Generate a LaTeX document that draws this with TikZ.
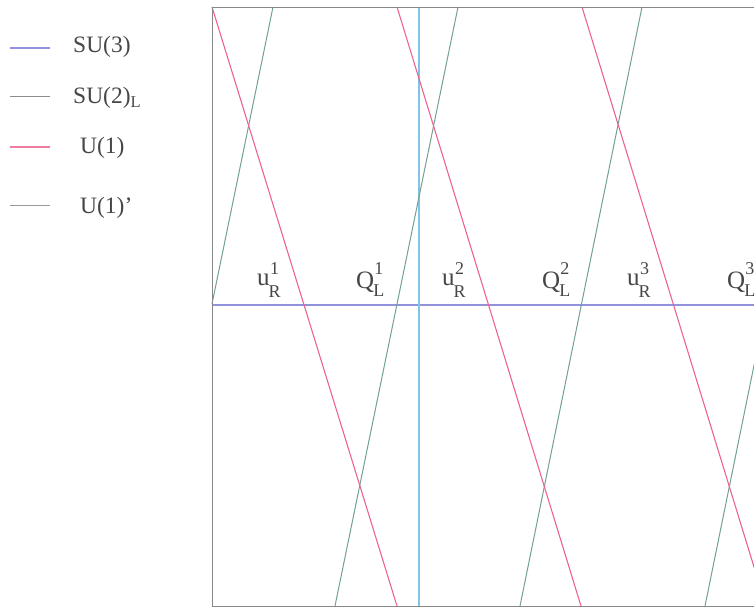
\documentclass[tikz,border=0pt]{standalone}
\usepackage{fontspec}
\setmainfont{Liberation Serif}
\setmathrm{Liberation Serif}
\definecolor{csu3}{RGB}{145,145,220}
\definecolor{csu2}{RGB}{115,160,148}
\definecolor{cu1}{RGB}{236,100,140}
\definecolor{cu1p}{RGB}{130,195,232}
\definecolor{cbox}{RGB}{135,135,135}
\definecolor{ctext}{RGB}{70,70,70}
\newlength\subw
\newcommand{\fld}[5]{#1\hspace{-1pt}\settowidth{\subw}{\fontsize{18}{18}\selectfont #3}\raisebox{-#4}{\fontsize{18}{18}\selectfont #3}\hspace{-\subw}\makebox[\subw][c]{\raisebox{#5}{\fontsize{18}{18}\selectfont #2}}}
\begin{document}
\begin{tikzpicture}[x=1pt,y=-1pt,
  boxline/.style={draw=cbox,line width=0.9pt},
  suthree/.style={draw=csu3,line width=1.2pt},
  sutwo/.style={draw=csu2,line width=1pt},
  uone/.style={draw=cu1,line width=1.1pt},
  uonep/.style={draw=cu1p,line width=1.2pt},
  leg/.style={anchor=west,font=\fontsize{23.5}{25}\selectfont,inner sep=0pt,text=ctext},
  lab/.style={anchor=base west,font=\fontsize{25}{27}\selectfont,inner sep=0pt,text=ctext}]
\useasboundingbox (0,0) rectangle (754,609);
% legend
\coordinate (l1a) at (10,48); \coordinate (l1b) at (50,48);
\coordinate (l2a) at (10,97); \coordinate (l2b) at (50,97);
\coordinate (l3a) at (10,147); \coordinate (l3b) at (50,147);
\coordinate (l4a) at (10,206); \coordinate (l4b) at (50,206);
\draw[draw=csu3,line width=1.3pt] (l1a) -- (l1b);
\draw[draw=black!45,line width=1pt] (l2a) -- (l2b);
\draw[draw=cu1!85!white,line width=1.2pt] (l3a) -- (l3b);
\draw[draw=black!40,line width=1pt] (l4a) -- (l4b);
\node[leg] (t1) at (73,47) {SU(3)};
\node[leg] (t2) at (73,98) {SU(2)$_{\mathrm{L}}$};
\node[leg] (t3) at (80,148) {U(1)};
\node[leg] (t4) at (80,208) {U(1)’};
% frame corners
\coordinate (tl) at (212,7); \coordinate (tr) at (754,7);
\coordinate (bl) at (212,606); \coordinate (br) at (754,606);
\coordinate (hl) at (212,305); \coordinate (hr) at (754,305);
\coordinate (vt) at (419,7); \coordinate (vb) at (419,606);
% line endpoints
\coordinate (r1t) at (212,7); \coordinate (r1b) at (397,606);
\coordinate (r2t) at (397,7); \coordinate (r2b) at (581,606);
\coordinate (r3t) at (582,7); \coordinate (r3b) at (766,606);
\coordinate (g1t) at (273,7); \coordinate (g1b) at (212,304);
\coordinate (g2t) at (458,7); \coordinate (g2b) at (335,606);
\coordinate (g3t) at (642,7); \coordinate (g3b) at (520,606);
\coordinate (g4t) at (827,7); \coordinate (g4b) at (705,606);
\begin{scope}
\clip (0,0) rectangle (754,609);
\draw[suthree] (hl) -- (hr);
\draw[uonep] (vt) -- (vb);
\draw[sutwo] (g1t) -- (g1b);
\draw[sutwo] (g2t) -- (g2b);
\draw[sutwo] (g3t) -- (g3b);
\draw[sutwo] (g4t) -- (g4b);
\draw[uone] (r1t) -- (r1b);
\draw[uone] (r2t) -- (r2b);
\draw[uone] (r3t) -- (r3b);
\draw[boxline] (tr) -- (tl) -- (bl) -- (br);
\end{scope}
% labels
\node[lab] (u1) at (257,286) {\fld{u}{1}{R}{12pt}{11pt}};
\node[lab] (q1) at (356,289) {\fld{Q}{1}{L}{7pt}{14pt}};
\node[lab] (u2) at (442,286) {\fld{u}{2}{R}{12pt}{11pt}};
\node[lab] (q2) at (542,289) {\fld{Q}{2}{L}{7pt}{14pt}};
\node[lab] (u3) at (627,286) {\fld{u}{3}{R}{12pt}{11pt}};
\node[lab] (q3) at (727,289) {\fld{Q}{3}{L}{7pt}{14pt}};
\end{tikzpicture}
\end{document}
